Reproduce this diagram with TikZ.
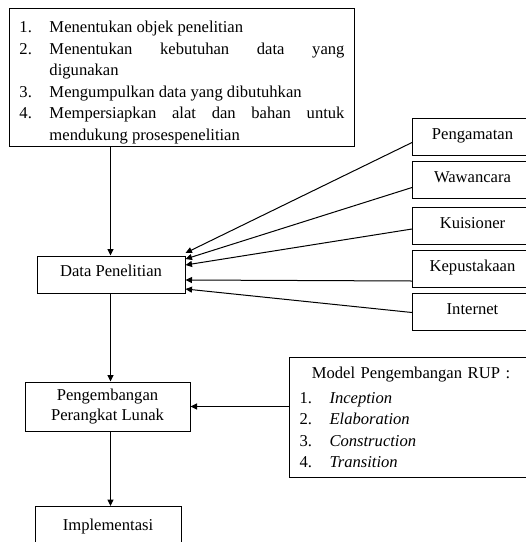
\documentclass[tikz,border=0pt]{standalone}
\usepackage{fontspec}
\setmainfont{Liberation Serif}
\usetikzlibrary{arrows.meta,calc}

% numbered entry with a hanging indent
\newcommand{\hangitem}[2]{\par\noindent\hangindent=30pt\hangafter=1\makebox[30pt][l]{#1}#2\par}

\begin{document}
\begin{tikzpicture}[x=1pt,y=-1pt,
  every node/.style={font=\fontsize{16.6}{21.5}\selectfont},
  box/.style={draw, line width=1pt, inner sep=0pt},
  srcbox/.style={box, anchor=north west, minimum width=120pt, minimum height=37pt,
                 text height=10pt, text depth=6pt},
  arr/.style={line width=1pt, -{Triangle[length=6.5pt,width=6pt]}},
]
\useasboundingbox (0,0) rectangle (526,542);
\clip (0,0) rectangle (526,542);

\coordinate (spine) at (110.5,0);

% preparation steps
\node[box, anchor=north west, text width=325pt, inner xsep=10pt, minimum height=138pt,
      align=justify] (tasks) at (9,8) {%
  \tolerance=9999\emergencystretch=20pt
  \hangitem{1.}{Menentukan objek penelitian}
  \hangitem{2.}{Menentukan kebutuhan data yang\linebreak digunakan}
  \hangitem{3.}{Mengumpulkan data yang dibutuhkan}
  \hangitem{4.}{Mempersiapkan alat dan bahan untuk\linebreak mendukung prosespenelitian}};

% main flow
\node[box, minimum width=148pt, minimum height=37pt, text height=10pt, text depth=6pt]
  (data) at (111,274.5) {Data Penelitian};
\node[box, minimum width=165pt, minimum height=49pt, align=center,
      font=\fontsize{16.6}{20}\selectfont] (dev) at (107.5,406.5) {Pengembangan\\Perangkat Lunak};
\node[box, anchor=north, minimum width=146pt, minimum height=40pt] (impl) at (108,506) {Implementasi};

% data sources
\node[srcbox] (src1) at (412,118) {Pengamatan};
\node[srcbox] (src2) at (412,161) {Wawancara};
\node[srcbox] (src3) at (412,207) {Kuisioner};
\node[srcbox] (src4) at (412,250) {Kepustakaan};
\node[srcbox] (src5) at (412,293) {Internet};

% development model
\node[box, anchor=north west, text width=223pt, inner xsep=10pt, minimum height=120pt,
      align=left] (rup) at (289,357) {%
  \makebox[\linewidth][c]{Model Pengembangan RUP :}\par\vspace{3.5pt}
  \makebox[30pt][l]{1.}\textit{Inception}\par
  \makebox[30pt][l]{2.}\textit{Elaboration}\par
  \makebox[30pt][l]{3.}\textit{Construction}\par
  \makebox[30pt][l]{4.}\textit{Transition}};

% connectors
\draw[arr] (tasks.south -| spine) -- (data.north -| spine);
\draw[arr] (data.south -| spine) -- (dev.north -| spine);
\draw[arr] (dev.south -| spine) -- (impl.north -| spine);
\draw[arr] (rup.west |- dev.east) -- (dev.east);

\draw[arr] ([yshift=-5.5pt]src1.west) -- ([yshift=21.5pt]data.east);
\draw[arr] ([yshift=-7.5pt]src2.west) -- ([yshift=15.5pt]data.east);
\draw[arr] ([yshift=-3pt]src3.west) -- ([yshift=9.5pt]data.east);
\draw[arr] ([yshift=-12pt]src4.west) -- ([yshift=-5.5pt]data.east);
\draw[arr] ([yshift=-0.5pt]src5.west) -- ([yshift=-14.5pt]data.east);
\end{tikzpicture}
\end{document}
